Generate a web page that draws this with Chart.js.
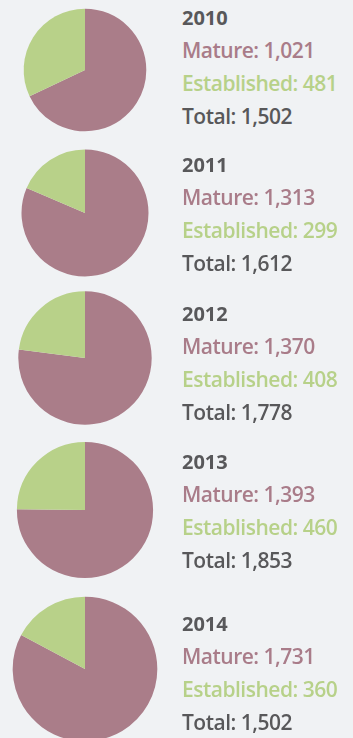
<!DOCTYPE html>
<html>
<head>
<meta charset="utf-8">
<script src="https://cdn.jsdelivr.net/npm/chart.js@4"></script>
<style>
  html, body { margin: 0; padding: 0; }
  body {
    width: 353px; height: 738px; overflow: hidden; position: relative;
    background: #f0f2f4;
    font-family: "Open Sans", sans-serif;
  }
  .pie { position: absolute; left: 0; width: 170px; height: 160px; }
  .info { position: absolute; left: 182px; font-weight: 600; font-size: 21px; letter-spacing: -0.5px; line-height: 33px; white-space: nowrap; }
  .info .year { color: #58585a; font-weight: 700; font-size: 20px; letter-spacing: 0; }
  .info .mature { color: #a97c89; }
  .info .established { color: #b7d189; }
  .info .total { color: #58585a; }
</style>
</head>
<body>
<script>
const YEARS = ['2010', '2011', '2012', '2013', '2014'];
const MATURE = [1021, 1313, 1370, 1393, 1731];
const ESTABLISHED = [481, 299, 408, 460, 360];
const TOTALS = [1502, 1612, 1778, 1853, 1502]; // as printed

const COLORS = ['#aa7d89', '#b8d189'];

// layout of each row (pie centre / top of the text block)
const PIE_CENTERS = [70, 212.5, 358.3, 509.7, 669.3];
const TEXT_TOPS = [1, 148, 297, 445, 607];
const BASE_RADIUS = 61.3; // radius for 1,502

const fmt = n => n.toLocaleString('en-US');

YEARS.forEach((year, i) => {
    const canvas = document.createElement('canvas');
    canvas.className = 'pie';
    canvas.width = 170;
    canvas.height = 160;
    canvas.style.top = (PIE_CENTERS[i] - 80) + 'px';
    document.body.appendChild(canvas);

    const sum = MATURE[i] + ESTABLISHED[i];

    new Chart(canvas.getContext('2d'), {
        type: 'pie',
        data: {
            labels: ['Mature', 'Established'],
            datasets: [{
                data: [MATURE[i], ESTABLISHED[i]],
                backgroundColor: COLORS,
                borderWidth: 0
            }]
        },
        options: {
            responsive: false,
            animation: false,
            radius: BASE_RADIUS * Math.sqrt(sum / 1502), // area scales with the total
            plugins: {
                legend: { display: false },
                tooltip: { enabled: false }
            }
        }
    });

    const info = document.createElement('div');
    info.className = 'info';
    info.style.top = TEXT_TOPS[i] + 'px';
    info.innerHTML =
        '<div class="year">' + year + '</div>' +
        '<div class="mature">Mature: ' + fmt(MATURE[i]) + '</div>' +
        '<div class="established">Established: ' + fmt(ESTABLISHED[i]) + '</div>' +
        '<div class="total">Total: ' + fmt(TOTALS[i]) + '</div>';
    document.body.appendChild(info);
});
</script>
</body>
</html>
